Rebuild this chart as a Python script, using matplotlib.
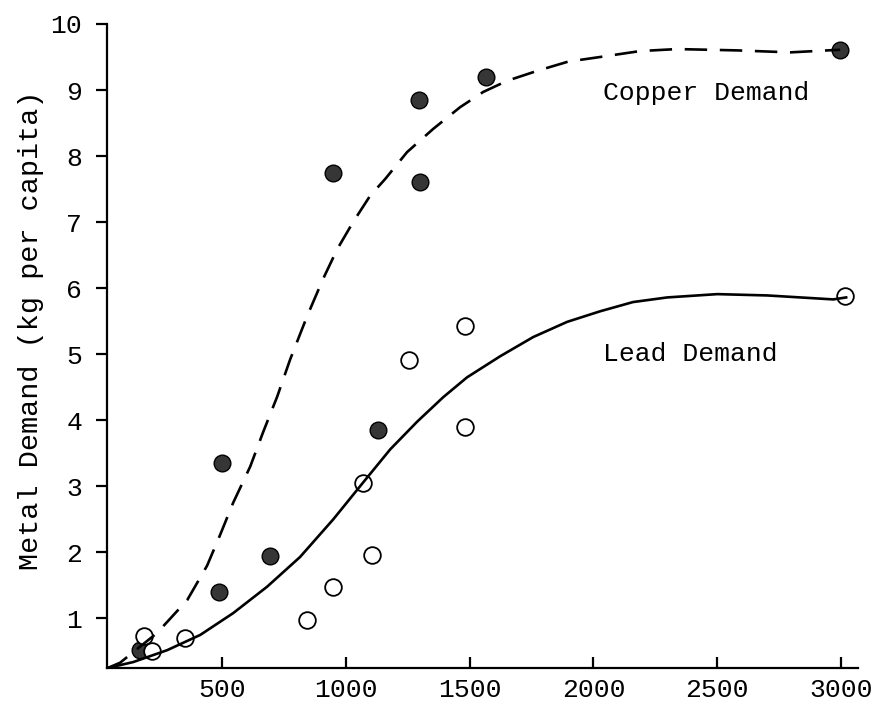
import matplotlib
matplotlib.use("Agg")
import matplotlib.pyplot as plt

plt.rcParams['font.family'] = ['Liberation Mono', 'DejaVu Sans Mono']

# observed per-capita demand (income on x, kg per capita on y)
copper_x = [170, 500, 490, 695, 950, 1300, 1130, 1295, 1565, 2995]
copper_y = [0.52, 3.35, 1.40, 1.95, 7.75, 7.60, 3.85, 8.85, 9.20, 9.60]

lead_x = [185, 220, 350, 845, 950, 1105, 1070, 1255, 1480, 1480, 3015]
lead_y = [0.74, 0.50, 0.70, 0.98, 1.48, 1.96, 3.05, 4.92, 5.42, 3.90, 5.88]

# fitted demand curves
copper_curve_x = [40, 90, 239, 361, 441, 494, 546, 615, 667, 724, 776, 845, 909,
                  966, 1030, 1099, 1159, 1248, 1353, 1462, 1555, 1652, 1773, 1898,
                  2027, 2189, 2338, 2580, 2794, 2996]
copper_curve_y = [0.25, 0.33, 0.78, 1.28, 1.80, 2.27, 2.75, 3.30, 3.82, 4.36, 4.92,
                  5.58, 6.14, 6.59, 7.00, 7.40, 7.65, 8.06, 8.41, 8.74, 8.97, 9.14,
                  9.29, 9.43, 9.50, 9.59, 9.62, 9.60, 9.57, 9.61]

lead_curve_x = [40, 143, 280, 413, 546, 683, 816, 950, 1071, 1180, 1289, 1394,
                1490, 1624, 1757, 1894, 2027, 2160, 2298, 2500, 2702, 2835, 2968, 3020]
lead_curve_y = [0.25, 0.34, 0.52, 0.75, 1.08, 1.48, 1.93, 2.50, 3.06, 3.56, 3.98,
                4.35, 4.65, 4.97, 5.26, 5.49, 5.65, 5.79, 5.86, 5.91, 5.89, 5.86,
                5.83, 5.86]

x_ticks = [500, 1000, 1500, 2000, 2500, 3000]
y_ticks = [1, 2, 3, 4, 5, 6, 7, 8, 9, 10]

fig = plt.figure(figsize=(8.91, 7.05), dpi=100)
ax = fig.add_axes([0.1201, 0.0525, 0.8429, 0.9135])

ax.plot(copper_x, copper_y, 'o', ms=12, mfc='#363636', mec='black', mew=1.0, zorder=2)
ax.plot(lead_x, lead_y, 'o', ms=12, mfc='white', mec='black', mew=1.3, zorder=3)

ax.plot(copper_curve_x, copper_curve_y, color='black', lw=1.9,
        dashes=(8.5, 4.8), solid_joinstyle='round', zorder=4)
ax.plot(lead_curve_x, lead_curve_y, color='black', lw=1.9,
        solid_joinstyle='round', zorder=4)

ax.text(2040, 8.95, "Copper Demand", fontsize=19, va='center', ha='left')
ax.text(2040, 5.0, "Lead Demand", fontsize=19, va='center', ha='left')

ax.set_xlim(37, 3068)
ax.set_ylim(0.25, 10)
ax.set_xticks(x_ticks)
ax.set_xticklabels([str(t) for t in x_ticks])
ax.set_yticks(y_ticks)
ax.set_yticklabels([str(t) for t in y_ticks])

ax.set_ylabel("Metal Demand (kg per capita)", fontsize=20.5)
ax.yaxis.set_label_coords(-0.084, 0.525)

for side in ['top', 'right']:
    ax.spines[side].set_visible(False)
for side in ['left', 'bottom']:
    ax.spines[side].set_linewidth(1.6)

ax.tick_params(axis='x', direction='in', length=8, width=1.6, pad=7, labelsize=19)
ax.tick_params(axis='y', direction='out', length=8, width=1.6, pad=10, labelsize=19)

fig.savefig("out.png", dpi=100)
